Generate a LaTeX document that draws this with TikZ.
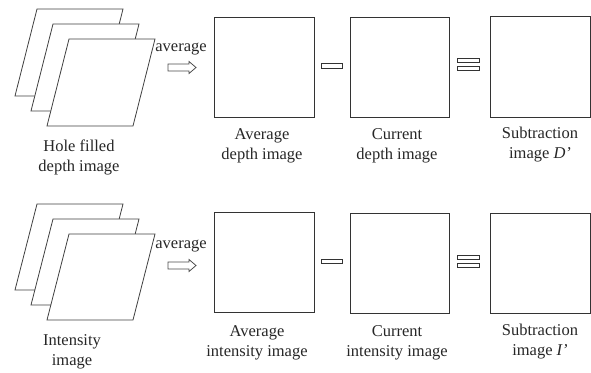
\documentclass[tikz,border=0pt]{standalone}
\usepackage{fontspec}
\setmainfont{Liberation Serif}
\begin{document}
\begin{tikzpicture}[x=1pt,y=-1pt,
  lbl/.style={font=\fontsize{16.5}{20}\selectfont, align=center, inner sep=0pt, text=black!85},
  imgbox/.style={draw=black!80, line width=1pt, fill=white, minimum width=100pt, minimum height=100pt, inner sep=0pt},
  sheet/.style={draw=black!75, line width=0.8pt, fill=white},
  opbar/.style={draw=black!80, line width=1pt, fill=white},
  hollow/.style={draw=black!70, line width=0.8pt, fill=white}]
\useasboundingbox (0,0) rectangle (591,372);

% stacked sheets, top row
\foreach \x/\y in {37/9,53/24,69/39}{
  \filldraw[sheet] (\x,\y) -- (\x+86,\y) -- (\x+64,\y+87) -- (\x-22,\y+87) -- cycle;
}
% stacked sheets, bottom row
\foreach \x/\y in {37/204,53/219,69/234}{
  \filldraw[sheet] (\x,\y) -- (\x+86,\y) -- (\x+64,\y+86) -- (\x-22,\y+86) -- cycle;
}

\node[lbl] (hf) at (79,157) {Hole filled\\depth image};
\node[lbl] (ii) at (72,352) {Intensity\\image};

\node[lbl] (av1) at (181,49) {average};
\node[lbl] (av2) at (181,246) {average};

% hollow arrows
\filldraw[hollow] (168,64) -- (189,64) -- (189,61.5) -- (196,67.5) -- (189,73.5) -- (189,71) -- (168,71) -- cycle;
\filldraw[hollow] (168,262) -- (189,262) -- (189,259.5) -- (196,265.5) -- (189,271.5) -- (189,269) -- (168,269) -- cycle;

% boxes
\node[imgbox] (a1) at (264,67) {};
\node[imgbox, minimum width=99pt] (c1) at (399.5,67) {};
\node[imgbox, minimum height=101pt] (s1) at (540,66.5) {};
\node[imgbox] (a2) at (264,262) {};
\node[imgbox, minimum width=99pt] (c2) at (399.5,263) {};
\node[imgbox] (s2) at (540,263) {};

% operators
\filldraw[opbar] (321,63) rectangle (342,68);
\filldraw[opbar] (457,58.5) rectangle (479,62.5);
\filldraw[opbar] (457,66.5) rectangle (479,70.5);
\filldraw[opbar] (321,259) rectangle (342,263.5);
\filldraw[opbar] (457,255) rectangle (479,259);
\filldraw[opbar] (457,263) rectangle (479,267);

% labels
\node[lbl] at (262,146) {Average\\depth image};
\node[lbl] at (397,146) {Current\\depth image};
\node[lbl] at (540,145) {Subtraction\\image \textit{D’}};
\node[lbl] at (257,343) {Average\\intensity image};
\node[lbl] at (397,343) {Current\\intensity image};
\node[lbl] at (540,342) {Subtraction\\image \textit{I’}};
\end{tikzpicture}
\end{document}
